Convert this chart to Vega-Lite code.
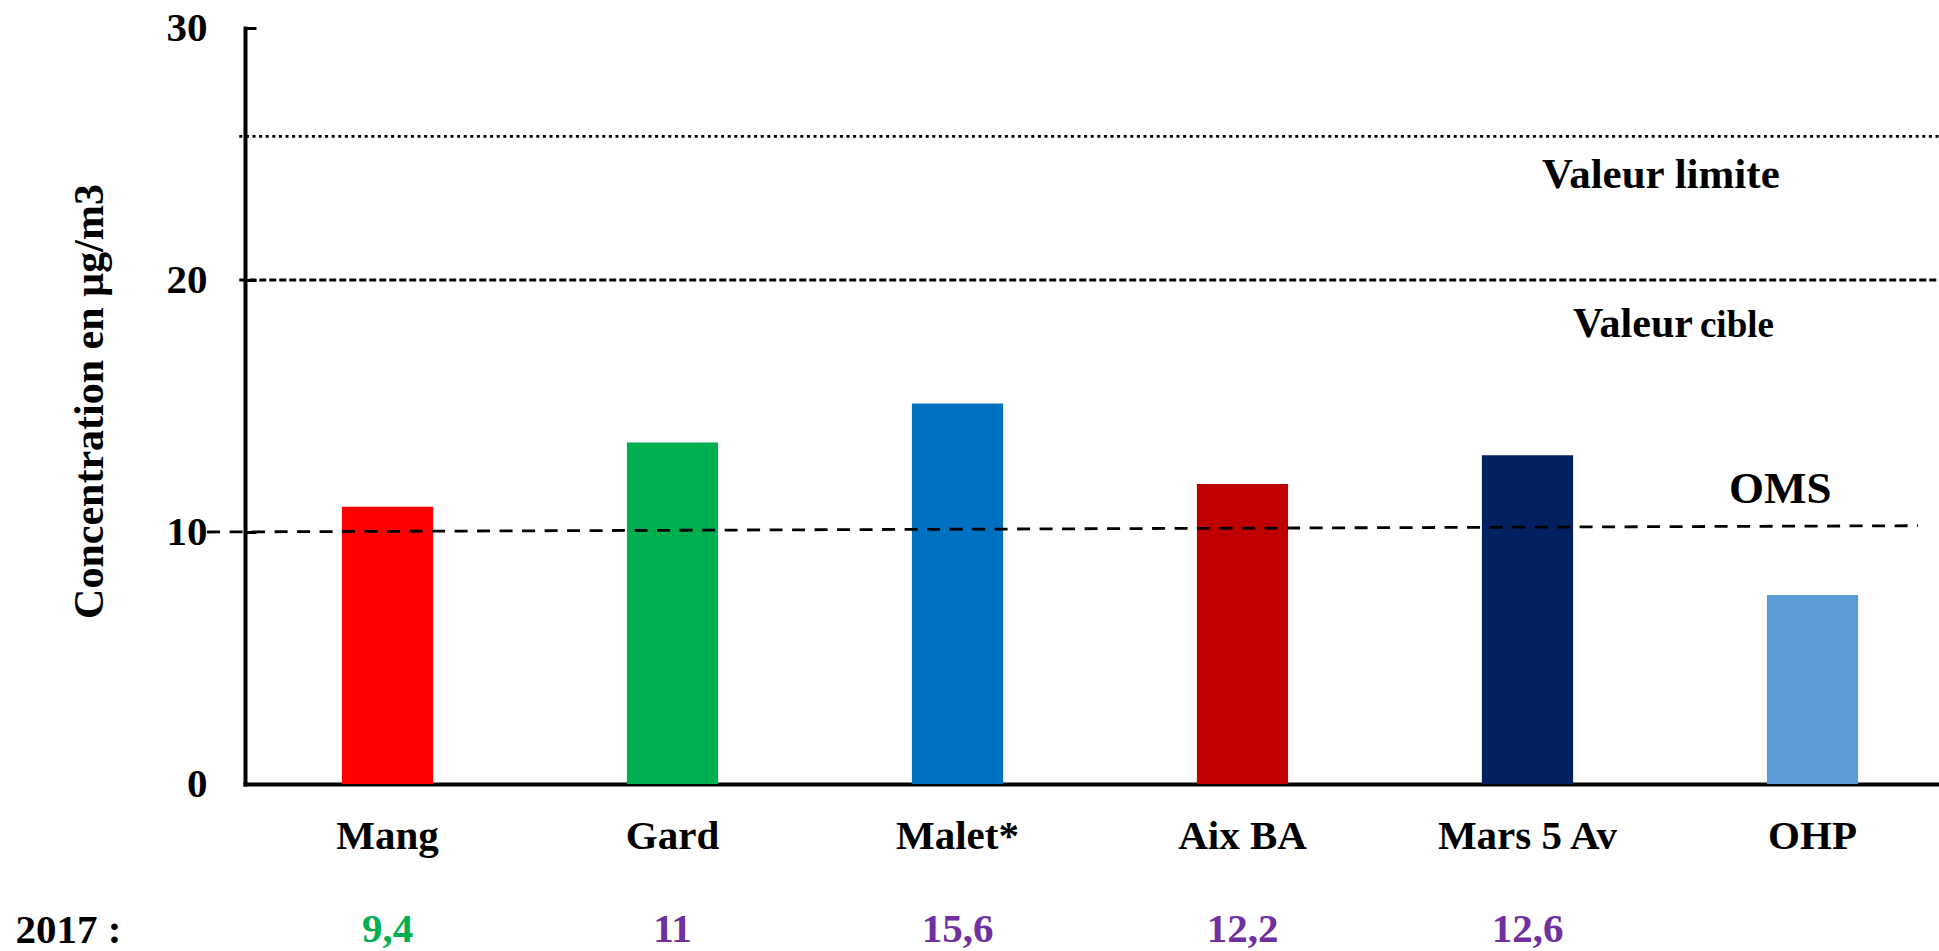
{
  "$schema": "https://vega.github.io/schema/vega-lite/v6.json",
  "width": 1710,
  "height": 756,
  "autosize": "none",
  "padding": {"left": 245, "top": 28, "right": 0, "bottom": 167},
  "background": "white",
  "config": {
    "view": {"stroke": null},
    "font": "Liberation Serif",
    "locale": {"number": {"decimal": ",", "thousands": " ", "grouping": [3], "currency": ["", " €"]}}
  },
  "datasets": {
    "sites": [
      {"site": "Mang", "value": 11.0, "y2017": 9.4},
      {"site": "Gard", "value": 13.55, "y2017": 11},
      {"site": "Malet*", "value": 15.1, "y2017": 15.6},
      {"site": "Aix BA", "value": 11.9, "y2017": 12.2},
      {"site": "Mars 5 Av", "value": 13.05, "y2017": 12.6},
      {"site": "OHP", "value": 7.5, "y2017": null}
    ],
    "refs": [
      {"name": "Valeur limite", "pos": -0.02, "value": 25.7},
      {"name": "Valeur limite", "pos": 6, "value": 25.7},
      {"name": "Valeur cible", "pos": -0.02, "value": 20},
      {"name": "Valeur cible", "pos": 6, "value": 20},
      {"name": "OMS", "pos": -0.133, "value": 10},
      {"name": "OMS", "pos": 5.87, "value": 10.25}
    ],
    "notes": [
      {"label": "Valeur limite", "pos": 4.551, "value": 23.65},
      {"label": "Valeur", "pos": 4.66, "value": 17.74},
      {"label": "cible", "pos": 5.105, "value": 17.74},
      {"label": "OMS", "pos": 5.207, "value": 11.15}
    ]
  },
  "layer": [
    {
      "data": {"name": "sites"},
      "mark": {"type": "bar"},
      "encoding": {
        "x": {
          "field": "site", "type": "nominal", "sort": null,
          "scale": {"type": "band", "paddingInner": 0.68, "paddingOuter": 0.34},
          "axis": {
            "title": "2017 :", "titleX": -230, "titleY": 158, "titleAlign": "left", "titleAnchor": "start",
            "titleBaseline": "alphabetic", "titleFontSize": 41, "titleFontWeight": "bold", "titleColor": "black",
            "titleFont": "Liberation Serif",
            "labelAngle": 0, "labelFontSize": 41, "labelFontWeight": "bold", "labelColor": "black",
            "labelFont": "Liberation Serif", "labelBaseline": "alphabetic", "labelPadding": 64, "labelLimit": 0,
            "ticks": false, "domainColor": "black", "domainWidth": 4, "domainCap": "square"
          }
        },
        "y": {
          "field": "value", "type": "quantitative",
          "scale": {"domain": [0, 30], "nice": false},
          "axis": {
            "title": "Concentration en µg/m3", "values": [0, 10, 20, 30], "grid": false,
            "domainColor": "black", "domainWidth": 4, "domainCap": "square",
            "tickColor": "black", "tickWidth": 3, "tickSize": -11,
            "labelPadding": 49, "labelFontSize": 41, "labelFontWeight": "bold", "labelColor": "black",
            "labelFont": "Liberation Serif",
            "titleFontSize": 42, "titleFontWeight": "bold", "titleColor": "black", "titleFont": "Liberation Serif",
            "titleX": -143, "titleY": 373, "titleAngle": -90, "titleAlign": "center", "titleBaseline": "alphabetic"
          }
        },
        "color": {
          "field": "site", "type": "nominal", "sort": null,
          "scale": {
            "domain": ["Mang", "Gard", "Malet*", "Aix BA", "Mars 5 Av", "OHP"],
            "range": ["#FF0000", "#00B050", "#0070C0", "#C00000", "#002060", "#5B9BD5"]
          },
          "legend": null
        }
      }
    },
    {
      "data": {"name": "sites"},
      "transform": [{"filter": "isValid(datum.y2017)"}],
      "mark": {"type": "text", "dy": 158, "baseline": "alphabetic", "align": "center", "fontSize": 41, "fontWeight": "bold", "font": "Liberation Serif"},
      "encoding": {
        "x": {
          "field": "site", "type": "nominal", "sort": null, "bandPosition": 0.5,
          "scale": {"type": "band", "paddingInner": 0.68, "paddingOuter": 0.34, "domain": ["Mang", "Gard", "Malet*", "Aix BA", "Mars 5 Av", "OHP"]},
          "axis": null
        },
        "y": {"datum": 0, "type": "quantitative"},
        "text": {"field": "y2017", "type": "quantitative", "format": ".3~g"},
        "color": {"condition": {"test": "datum.y2017 < 10", "value": "#00B050"}, "value": "#7030A0"}
      }
    },
    {
      "data": {"name": "refs"},
      "mark": {"type": "line", "color": "black", "strokeWidth": 2.8, "strokeCap": "butt"},
      "encoding": {
        "x": {"field": "pos", "type": "quantitative", "scale": {"domain": [0, 6], "nice": false, "zero": false}, "axis": null},
        "y": {"field": "value", "type": "quantitative"},
        "detail": {"field": "name", "type": "nominal"},
        "strokeDash": {
          "field": "name", "type": "nominal",
          "scale": {"domain": ["Valeur limite", "Valeur cible", "OMS"], "range": [[3, 3.6], [7, 3], [13, 9.5]]},
          "legend": null
        }
      }
    },
    {
      "data": {"name": "notes"},
      "mark": {"type": "text", "align": "left", "baseline": "alphabetic", "fontWeight": "bold", "font": "Liberation Serif", "color": "black"},
      "encoding": {
        "x": {"field": "pos", "type": "quantitative", "scale": {"domain": [0, 6], "nice": false, "zero": false}, "axis": null},
        "y": {"field": "value", "type": "quantitative"},
        "text": {"field": "label", "type": "nominal"},
        "size": {
          "condition": [
            {"test": "datum.label === 'cible'", "value": 37},
            {"test": "datum.label === 'OMS'", "value": 45},
            {"test": "datum.label === 'Valeur limite'", "value": 43}
          ],
          "value": 42
        }
      }
    }
  ],
  "resolve": {"scale": {"x": "independent"}}
}
